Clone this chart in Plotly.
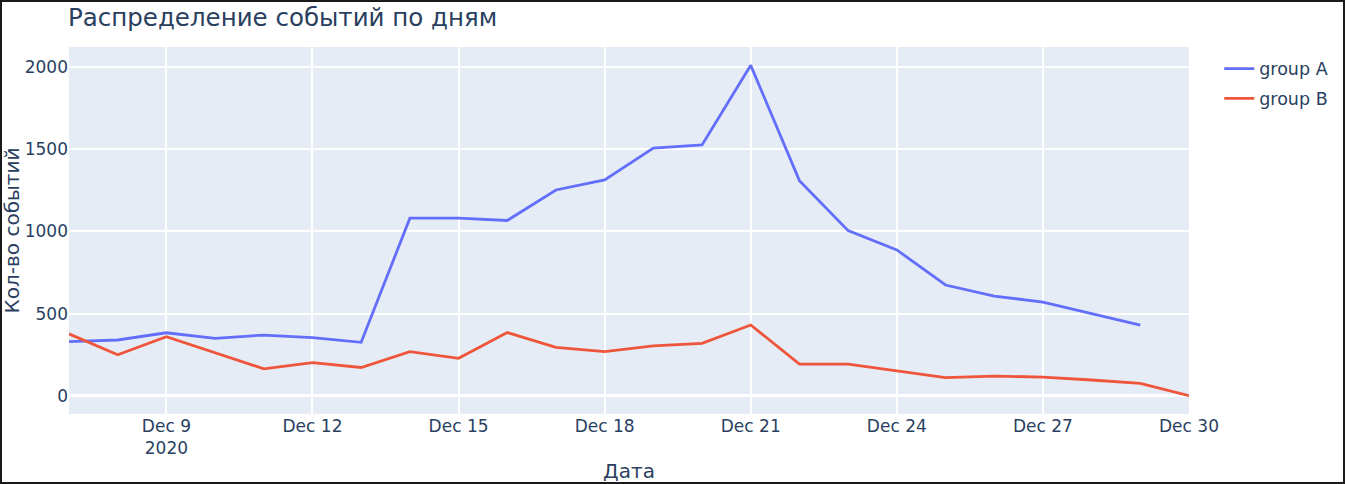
import pandas as pd
import plotly.graph_objs as go

# Data
dates_a = pd.date_range("2020-12-07", "2020-12-29", freq="D")
events_a = [330, 340, 384, 350, 370, 354, 326, 1080, 1080, 1066, 1251, 1312,
            1505, 1525, 2008, 1308, 1004, 887, 674, 607, 570, 500, 430]

dates_b = pd.date_range("2020-12-07", "2020-12-30", freq="D")
events_b = [377, 250, 360, 263, 165, 202, 173, 269, 229, 385, 295, 269,
            304, 320, 431, 194, 194, 152, 111, 121, 115, 97, 77, 2]

W, H = 1345, 484
L, R, T, B = 69, 156, 47, 70

font_family = "Verdana, DejaVu Sans, sans-serif"

fig = go.Figure()

fig.add_trace(
    go.Scatter(
        x=dates_a,
        y=events_a,
        mode="lines",
        line=dict(color="#636efa", width=2.8),
        name="group A",
        legendgroup="a",
    )
)
fig.add_trace(
    go.Scatter(
        x=dates_b,
        y=events_b,
        mode="lines",
        line=dict(color="#EF553B", width=2.8),
        name="group B",
        legendgroup="b",
    )
)

# Titles, layout
fig.update_layout(
    template="plotly",
    width=W,
    height=H,
    margin=dict(l=L, r=R, t=T, b=B, autoexpand=False),
    font=dict(family=font_family, size=17, color="#2a3f5f"),
    title=dict(
        text="Распределение событий по дням",
        font=dict(size=24.5),
        x=68 / W,
        xanchor="left",
        y=1 - 17 / H,
        yanchor="middle",
    ),
    xaxis_title=dict(text="Дата", font=dict(size=20), standoff=6),
    yaxis_title=dict(text="Кол-во событий", font=dict(size=20), standoff=6),
    legend=dict(font=dict(size=17.5), x=1.027, y=0.99, tracegroupgap=4),
)

fig.update_xaxes(dtick=3 * 24 * 3600 * 1000, tick0="2020-12-09", gridwidth=1.5)
fig.update_yaxes(dtick=500, gridwidth=1.5, zerolinewidth=2.5)

# screenshot frame
fig.add_shape(
    type="rect",
    xref="paper",
    yref="paper",
    x0=-L / (W - L - R),
    x1=(W - L) / (W - L - R),
    y0=-B / (H - T - B),
    y1=(H - B) / (H - T - B),
    line=dict(color="#1a1a1a", width=4),
    fillcolor="rgba(0,0,0,0)",
    layer="above",
)

fig.write_html(
    "out.html",
    config={"displayModeBar": False},
    post_script="document.body.style.margin='0';",
)
